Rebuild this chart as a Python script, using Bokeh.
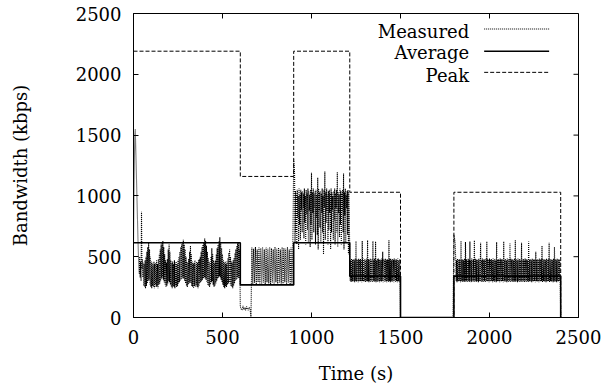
import numpy as np
from bokeh.plotting import figure
from bokeh.models import Range1d, FixedTicker, Label, Arrow
from bokeh.embed import file_html
from bokeh.resources import INLINE

FONT = "DejaVu Serif"
FS = "18px"

x_ticks = [0, 500, 1000, 1500, 2000, 2500]
y_ticks = [0, 500, 1000, 1500, 2000, 2500]
series_names = ["Measured", "Average", "Peak"]

# ---- Measured bandwidth (kbps), in pieces: (start s, step s, values)
meas_a_start, meas_a_step = 0, 2.5
meas_a = [600, 1000, 1300, 1500, 1550, 1400, 1250, 1100, 950, 800,
          650, 520, 420, 360, 500, 330, 460, 300, 870, 400,
          480, 330, 450, 260, 440, 250, 470, 240, 500, 260,
          540, 280, 580, 300, 620, 310, 560, 270, 500, 250,
          460, 240, 450, 260, 430, 250, 460, 240, 440, 270,
          450, 250, 470, 260, 440, 240, 480, 270, 520, 280,
          560, 300, 600, 320, 620, 330, 630, 310, 580, 290,
          520, 270, 470, 250, 450, 260, 480, 280, 560, 300,
          600, 290, 540, 270, 470, 250, 450, 240, 460, 260,
          440, 250, 470, 240, 450, 270, 460, 250, 440, 260,
          470, 280, 500, 290, 540, 300, 580, 310, 600, 320,
          620, 330, 640, 320, 600, 300, 560, 280, 500, 260,
          460, 250, 450, 270, 480, 280, 540, 290, 590, 280,
          520, 260, 460, 250, 440, 240, 450, 260, 470, 250,
          440, 270, 460, 250, 450, 240, 470, 260, 480, 280,
          500, 290, 540, 300, 580, 310, 600, 320, 620, 330,
          650, 320, 630, 310, 590, 290, 540, 270, 490, 260,
          460, 250, 450, 270, 500, 290, 570, 300, 520, 270,
          470, 250, 450, 260, 470, 280, 520, 300, 570, 320,
          600, 330, 630, 340, 660, 330, 620, 310, 570, 290,
          520, 270, 470, 250, 450, 240, 460, 260, 440, 250,
          460, 270, 490, 280, 530, 290, 560, 280, 500, 260,
          460, 250, 450, 240, 470, 260, 490, 280, 530, 300,
          560, 310, 590, 320, 620, 330, 610, 320, 560, 450]

meas_b_start, meas_b_step = 600, 5
meas_b = [90, 70, 60, 95, 65, 80, 60, 90, 70, 60, 85, 70,
          0,
          575, 275, 565, 285, 580, 270, 560, 290, 575, 280,
          570, 275, 580, 285, 560, 270, 575, 290, 565, 280,
          580, 270, 570, 285, 560, 275, 580, 290, 565, 270,
          575, 285, 560, 280, 580, 270, 570, 290, 565, 275,
          580, 285, 560, 270, 575, 280, 570]

meas_c_start, meas_c_step = 900, 2.5
meas_c = [1300, 1250, 1180, 620, 1040, 700, 1020, 600, 1050, 820,
          1000, 560, 1060, 760, 1010, 640, 1050, 880, 1030, 700,
          1040, 900, 1020, 650, 1060, 780, 1000, 600, 1050, 850,
          1020, 720, 1060, 620, 1040, 880, 1010, 580, 1050, 760,
          1190, 640, 1030, 860, 1060, 700, 1020, 900, 1040, 600,
          1050, 820, 1010, 680, 1150, 560, 1060, 880, 1030, 740,
          1040, 620, 1020, 860, 1060, 700, 1000, 520, 1050, 900,
          1200, 640, 1030, 780, 1060, 880, 1010, 600, 1040, 720,
          1050, 860, 1020, 560, 1060, 700, 1030, 880, 1000, 640,
          1040, 800, 1060, 600, 1020, 900, 1050, 700, 1195, 580,
          1030, 860, 1010, 660, 1060, 760, 1040, 600, 1020, 880,
          1050, 700, 1185, 560, 1030, 840, 1060, 620, 1010, 900,
          1040, 680, 1050, 520, 1030, 860]

meas_d_start, meas_d_step = 1215, 2.5
meas_d = [480, 300, 470, 290, 485, 300, 475, 295, 480, 300,
          470, 290, 485, 300, 630, 295, 480, 300, 470, 290,
          485, 300, 475, 295, 480, 300, 470, 290, 630, 300,
          485, 295, 475, 300, 480, 290, 470, 300, 485, 295,
          635, 300, 480, 290, 475, 300, 485, 295, 470, 300,
          480, 290, 630, 300, 475, 295, 485, 300, 625, 290,
          470, 300, 480, 295, 485, 300, 475, 290, 480, 300,
          470, 295, 485, 300, 540, 290, 480, 300, 475, 295,
          485, 300, 470, 290, 480, 300, 475, 295, 635, 300,
          480, 290, 485, 300, 470, 295, 480, 300, 475, 290,
          485, 300, 470, 295, 480, 300, 475, 290, 485, 300,
          470, 295, 480, 300]

meas_e_start, meas_e_step = 1500, 295
meas_e = [0, 0]

meas_f_start, meas_f_step = 1800, 2.5
meas_f = [680, 660, 640, 600, 480, 300, 470, 290, 485, 300,
          475, 295, 480, 300, 470, 290, 630, 300, 475, 295,
          480, 300, 470, 290, 485, 300, 620, 295, 480, 300,
          470, 290, 485, 300, 475, 295, 625, 300, 470, 290,
          485, 300, 475, 295, 480, 300, 635, 290, 485, 300,
          475, 295, 480, 300, 470, 290, 485, 300, 475, 295,
          615, 300, 470, 290, 485, 300, 475, 295, 480, 300,
          470, 290, 485, 300, 625, 295, 480, 300, 470, 290,
          485, 300, 475, 295, 480, 300, 470, 290, 485, 300,
          475, 295, 480, 300, 470, 290, 620, 300, 475, 295,
          480, 300, 470, 290, 485, 300, 475, 295, 480, 300,
          470, 290, 625, 300, 475, 295, 480, 300, 470, 290,
          485, 300, 475, 295, 480, 300, 610, 290, 485, 300,
          475, 295, 480, 300, 470, 290, 485, 300, 635, 295,
          480, 300, 470, 290, 485, 300, 475, 295, 480, 300,
          470, 290, 615, 300, 475, 295, 480, 300, 470, 290,
          485, 300, 475, 295, 480, 300, 470, 290, 625, 300,
          475, 295, 480, 300, 470, 290, 485, 300, 475, 295,
          480, 300, 470, 290, 540, 300, 475, 295, 480, 300,
          470, 290, 485, 300, 475, 295, 480, 300, 590, 290,
          485, 300, 475, 295, 480, 300, 470, 290, 485, 300,
          475, 295, 480, 300, 615, 290, 485, 300, 475, 295,
          480, 300, 470, 290, 485, 300, 580, 295, 480, 300,
          470, 290, 485, 300, 475, 295, 480, 300, 470, 290]

meas_g_start, meas_g_step = 2400, 5
meas_g = [0]

# ---- Average and Peak: levels per phase
phase_edges = [0, 600, 900, 1215, 1500, 1800, 2400]
avg_levels = [615, 268, 615, 340, 0, 340]
peak_levels = [2190, 1160, 2190, 1030, 0, 1030]

pieces = [(meas_a_start, meas_a_step, meas_a), (meas_b_start, meas_b_step, meas_b),
          (meas_c_start, meas_c_step, meas_c), (meas_d_start, meas_d_step, meas_d),
          (meas_e_start, meas_e_step, meas_e), (meas_f_start, meas_f_step, meas_f),
          (meas_g_start, meas_g_step, meas_g)]
mt, mv = [], []
for s, st, vals in pieces:
    mt.extend(list(s + st * np.arange(len(vals))))
    mv.extend(vals)

X0, X1, Y0, Y1 = 0, 2500, 0, 2500
p = figure(width=608, height=386, output_backend="svg", toolbar_location=None,
           x_range=Range1d(X0, X1), y_range=Range1d(Y0, Y1),
           min_border_left=133, min_border_right=30, min_border_top=13, min_border_bottom=68)
p.grid.visible = False
p.outline_line_color = "black"
p.outline_line_width = 1
p.background_fill_color = "white"
p.border_fill_color = "white"

MEAS_STYLE = dict(line_color="black", line_width=1.1, line_dash="1 1")
AVG_STYLE = dict(line_color="black", line_width=1.6)
PEAK_STYLE = dict(line_color="black", line_width=1, line_dash="4 2")

p.step(phase_edges, avg_levels + [0], mode="after", **AVG_STYLE)
p.line(mt, mv, **MEAS_STYLE)
p.step(phase_edges, peak_levels + [0], mode="after", **PEAK_STYLE)

p.xaxis.ticker = FixedTicker(ticks=x_ticks)
p.yaxis.ticker = FixedTicker(ticks=y_ticks)
for ax in [p.xaxis[0], p.yaxis[0]]:
    ax.major_tick_in = 5
    ax.major_tick_out = 0
    ax.minor_tick_in = 0
    ax.minor_tick_out = 0
    ax.axis_line_color = "black"
    ax.major_label_text_font = FONT
    ax.major_label_text_font_size = FS
    ax.major_label_text_color = "black"
    ax.major_label_standoff = 12
    ax.axis_label_text_font = FONT
    ax.axis_label_text_font_size = FS
    ax.axis_label_text_font_style = "normal"
    ax.axis_label_text_color = "black"
p.xaxis.axis_label = "Time (s)"
p.xaxis.axis_label_standoff = 16
p.yaxis.axis_label = "Bandwidth (kbps)"
p.yaxis.axis_label_standoff = 42

# mirrored inward ticks on the top and right edges (5 px long)
FRAME_W, FRAME_H = 608 - 133 - 30, 386 - 13 - 68
tick_dy = 5 * (Y1 - Y0) / FRAME_H
tick_dx = 5 * (X1 - X0) / FRAME_W
p.segment(x0=x_ticks, y0=[Y1] * len(x_ticks), x1=x_ticks, y1=[Y1 - tick_dy] * len(x_ticks),
          line_color="black", line_width=1)
p.segment(x0=[X1] * len(y_ticks), y0=y_ticks, x1=[X1 - tick_dx] * len(y_ticks), y1=y_ticks,
          line_color="black", line_width=1)

# key: right-aligned text followed by a line sample (gnuplot style)
key_text_x = 1886
key_text_y = [2354, 2179, 1993]
key_line_x = (1970, 2335)
key_line_y = [2372, 2189, 2016]
for name, ty, ly, sty in zip(series_names, key_text_y, key_line_y, [MEAS_STYLE, AVG_STYLE, PEAK_STYLE]):
    p.add_layout(Label(x=key_text_x, y=ty, text=name, text_align="right", text_baseline="middle",
                       text_font=FONT, text_font_size=FS, text_color="black"))
    p.add_layout(Arrow(end=None, x_start=key_line_x[0], y_start=ly, x_end=key_line_x[1], y_end=ly,
                       **sty))

open("out.html", "w").write(file_html(p, INLINE))
